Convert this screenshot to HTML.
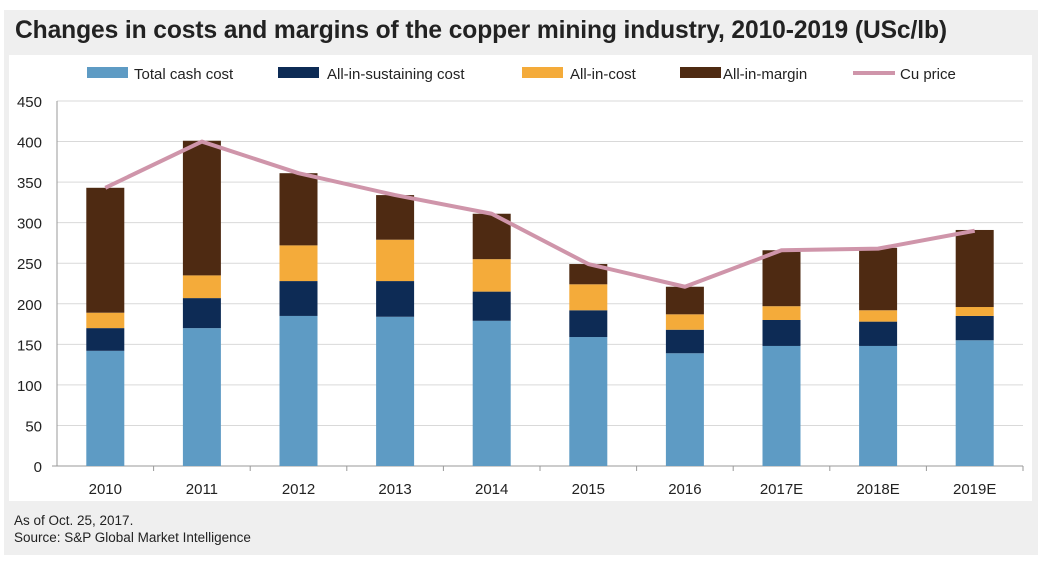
<!DOCTYPE html>
<html><head><meta charset="utf-8"><style>
body{margin:0;background:#fff;width:1042px;height:561px;overflow:hidden;font-family:"Liberation Sans",sans-serif}
#panel{position:absolute;left:4px;top:10px;width:1034px;height:545px;background:#efefef}
#title{position:absolute;left:15px;top:17px;font-size:24.6px;font-weight:bold;color:#222;letter-spacing:-0.1px}
#white{position:absolute;left:9px;top:55px;width:1023px;height:446px;background:#fff}
#note{position:absolute;left:14px;top:512px;font-size:13.5px;color:#222;line-height:17px}
svg{position:absolute;left:0;top:0}
</style></head><body>
<div id="panel"></div>
<div id="title">Changes in costs and margins of the copper mining industry, 2010-2019 (USc/lb)</div>
<div id="white"></div>
<div id="note">As of Oct. 25, 2017.<br>Source: S&amp;P Global Market Intelligence</div>
<svg id="chart" width="1042" height="561"></svg>
<script>
const categories=["2010","2011","2012","2013","2014","2015","2016","2017E","2018E","2019E"];
const cashCost=[142,170,185,184,179,159,139,148,148,155];
const aiscExtra=[28,37,43,44,36,33,29,32,30,30];
const aicExtra=[19,28,44,51,40,32,19,17,14,11];
const margin=[154,166,89,55,56,25,34,69,77,95];
const cuPrice=[343,400,361,334,311,249,221,266,268,290];
const yTicks=[0,50,100,150,200,250,300,350,400,450];
const seriesNames=["Total cash cost","All-in-sustaining cost","All-in-cost","All-in-margin"];
const colors=["#5e9bc4","#0d2b55","#f4ab3a","#4e2a12"];
const ns="http://www.w3.org/2000/svg";
const svg=document.getElementById('chart');
const X0=57,X1=1023,Y0=466,Y1=101,YMAX=450;
const bw=(X1-X0)/categories.length;
function y(v){return Y0-(v/YMAX)*(Y0-Y1);}
function xc(i){return X0+bw*(i+0.5);}
function mk(t,a){const e=document.createElementNS(ns,t);for(const k in a)e.setAttribute(k,a[k]);svg.appendChild(e);return e;}
yTicks.forEach(t=>{
 if(t>0){const g=mk('line',{x1:X0,x2:X1,y1:y(t),y2:y(t),stroke:'#d9d9d9','stroke-width':1});
 
 }
 const l=mk('text',{x:42,y:y(t)+6,'text-anchor':'end','font-size':15,fill:'#222'});l.textContent=t;
 
 
});
mk('line',{x1:X0,x2:X0,y1:Y1,y2:Y0,stroke:'#999'});
mk('line',{x1:X0-5,x2:X1,y1:Y0,y2:Y0,stroke:'#999'});
const series=[cashCost,aiscExtra,aicExtra,margin];
categories.forEach((c,i)=>{
 let base=0;
 series.forEach((s,k)=>{
  const r=mk('rect',{x:xc(i)-19,width:38,y:y(base+s[i]),height:y(base)-y(base+s[i]),fill:colors[k]});
  
  
  base+=s[i];
 });
 const t=mk('text',{x:xc(i),y:494,'text-anchor':'middle','font-size':15,fill:'#222'});t.textContent=c;
 
 
 mk('line',{x1:X0+bw*(i+1),x2:X0+bw*(i+1),y1:Y0,y2:Y0+5,stroke:'#999'});
});
const pl=mk('polyline',{points:cuPrice.map((v,i)=>xc(i)+','+y(v)).join(' '),fill:'none',stroke:'#cf95aa','stroke-width':4,'stroke-linejoin':'round'});


const legX=[87,278,522,680,853];
const legTX=[134,327,570,723,900];
const legNames=seriesNames.concat(["Cu price"]);
const legCols=colors.concat(["#cf95aa"]);
legNames.forEach((n,i)=>{
 if(i<4)mk('rect',{x:legX[i],y:67,width:41,height:11,fill:legCols[i]});
 else mk('line',{x1:legX[i],x2:legX[i]+42,y1:73,y2:73,stroke:legCols[i],'stroke-width':4});
 const t=mk('text',{x:legTX[i],y:79,'font-size':15,fill:'#222'});t.textContent=n;
 
 
});
</script>
</body></html>
